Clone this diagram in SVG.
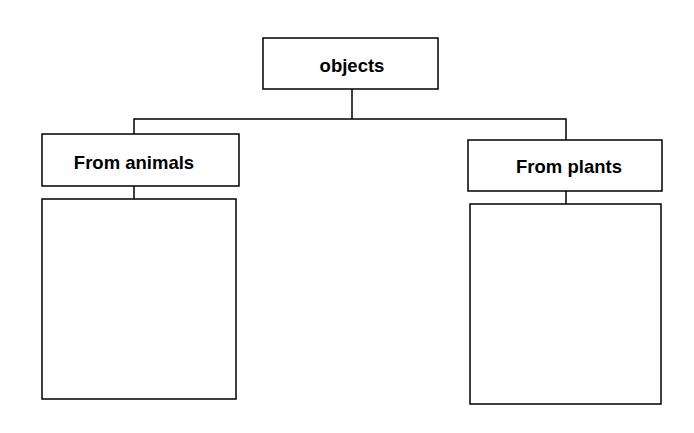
<svg xmlns="http://www.w3.org/2000/svg" width="694" height="433" viewBox="0 0 694 433">
<style>
.box{fill:#fff;stroke:#000;stroke-width:1.5}
.lbl{font-family:"Liberation Sans",Arial,sans-serif;font-weight:bold;font-size:18.5px;fill:#000;text-anchor:middle}
.ln{fill:none;stroke:#000;stroke-width:1.5}
</style>
<rect width="694" height="433" fill="#fff"/>
<g id="connectors">
<path class="ln" d="M352,89 V119 M134,134 V119 H566 V140"/>
<path class="ln" d="M134,186 V199"/>
<path class="ln" d="M566,191 V204"/>
</g>
<g id="objects">
<rect class="box" x="263" y="38" width="175" height="51"/>
<text class="lbl" x="352" y="72">objects</text>
</g>
<g id="from-animals">
<rect class="box" x="42" y="134" width="197" height="52"/>
<text class="lbl" x="134" y="169">From animals</text>
</g>
<g id="animals-list">
<rect class="box" x="42" y="199" width="194" height="200"/>
</g>
<g id="from-plants">
<rect class="box" x="468" y="140" width="194" height="51"/>
<text class="lbl" x="569" y="173">From plants</text>
</g>
<g id="plants-list">
<rect class="box" x="470" y="204" width="191" height="200"/>
</g>
</svg>
